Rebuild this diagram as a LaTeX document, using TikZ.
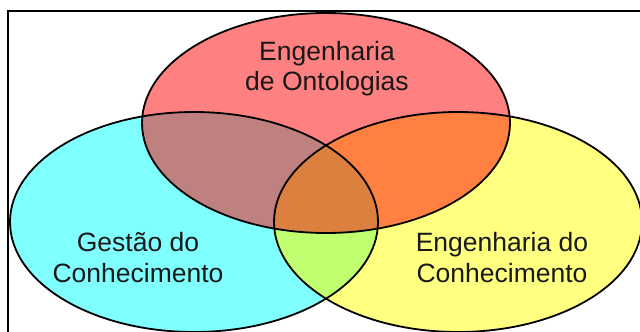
\documentclass[tikz,border=0pt]{standalone}
\usepackage{fontspec}
\setmainfont{Liberation Sans}
\definecolor{cRed}{HTML}{FF8080}
\definecolor{cCyan}{HTML}{80FFFF}
\definecolor{cYellow}{HTML}{FFFF80}
\definecolor{cRC}{HTML}{BF8080}
\definecolor{cRY}{HTML}{FF8040}
\definecolor{cCY}{HTML}{BFFF70}
\definecolor{cRCY}{HTML}{DC8040}
\begin{document}
\begin{tikzpicture}[x=1pt,y=-1pt,
  lbl/.style={font=\fontsize{26.5}{30}\selectfont, inner sep=0pt, anchor=base, text=black!90},
  outline/.style={draw=black, line width=1.8pt}]
\useasboundingbox (0,0) rectangle (640,332);
\clip (0,0) rectangle (640,332);
\fill[white] (0,0) rectangle (640,332);
% base fills
\fill[cCyan] (194,222) ellipse [x radius=184pt, y radius=110pt];
\fill[cYellow] (458,222) ellipse [x radius=184pt, y radius=110pt];
\fill[cRed] (326,123) ellipse [x radius=184pt, y radius=110pt];
% cyan & yellow
\begin{scope}
  \clip (194,222) ellipse [x radius=184pt, y radius=110pt];
  \fill[cCY] (458,222) ellipse [x radius=184pt, y radius=110pt];
\end{scope}
% red & others
\begin{scope}
  \clip (326,123) ellipse [x radius=184pt, y radius=110pt];
  \fill[cRC] (194,222) ellipse [x radius=184pt, y radius=110pt];
  \fill[cRY] (458,222) ellipse [x radius=184pt, y radius=110pt];
  \begin{scope}
    \clip (194,222) ellipse [x radius=184pt, y radius=110pt];
    \fill[cRCY] (458,222) ellipse [x radius=184pt, y radius=110pt];
  \end{scope}
\end{scope}
% outlines
\path[outline] (326,123) ellipse [x radius=184pt, y radius=110pt];
\path[outline] (194,222) ellipse [x radius=184pt, y radius=110pt];
\path[outline] (458,222) ellipse [x radius=184pt, y radius=110pt];
% frame
\coordinate (fb) at (8,345);
\coordinate (fc) at (8,11);
\coordinate (fr) at (650,11);
\draw[line width=2.6pt] (fb) -- (fc) -- (fr);
% labels
\node[lbl] (t1) at (327,60) {Engenharia};
\node[lbl] (t2) at (327,90) {de Ontologias};
\node[lbl] (l1) at (138,251) {Gestão do};
\node[lbl] (l2) at (138,282) {Conhecimento};
\node[lbl] (r1) at (502,251) {Engenharia do};
\node[lbl] (r2) at (502,282) {Conhecimento};
\end{tikzpicture}
\end{document}
